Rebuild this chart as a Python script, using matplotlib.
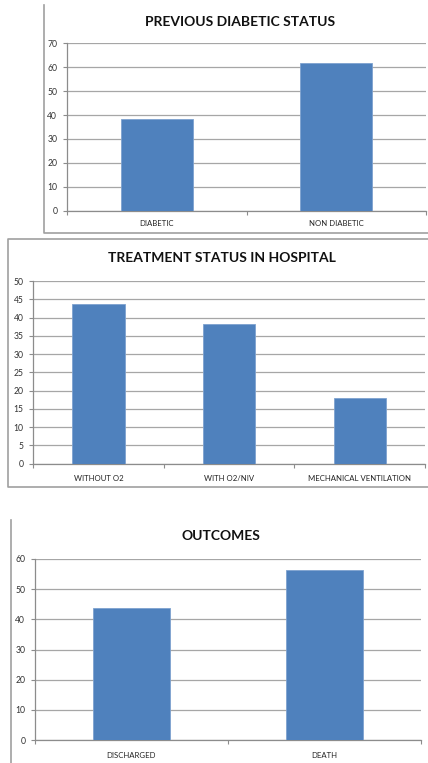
import matplotlib

matplotlib.use("Agg")
import matplotlib.pyplot as plt
from matplotlib.lines import Line2D

# data
diab_labels = ["DIABETIC", "NON DIABETIC"]
diab_values = [38.3, 61.7]

treat_labels = ["WITHOUT O2", "WITH O2/NIV", "MECHANICAL VENTILATION"]
treat_values = [43.8, 38.3, 17.9]

outcome_labels = ["DISCHARGED", "DEATH"]
outcome_values = [43.7, 56.3]

W, H = 428, 763
BAR = "#4F81BD"
GRID = "#A6A6A6"
AXIS = "#8C8C8C"
BORDER = "#A0A0A0"

plt.rcParams["font.family"] = ["Lato", "DejaVu Sans"]

fig = plt.figure(figsize=(W / 100, H / 100), dpi=100)


def px_axes(x0, x1, y0, y1):
    # pixel box (top-left origin) -> figure fraction
    return fig.add_axes([x0 / W, 1 - y1 / H, (x1 - x0) / W, (y1 - y0) / H])


def border(xs, ys):
    fig.add_artist(Line2D([x / W for x in xs], [1 - y / H for y in ys],
                          color=BORDER, lw=1.2))


def bar_panel(box, labels, values, ymax, step, title, title_y, title_x, label_pad):
    ax = px_axes(*box)
    n = len(labels)
    ax.bar(range(n), values, width=0.4, color=BAR, edgecolor="#7EA2CF",
           linewidth=0.6, zorder=3)
    ax.set_xlim(-0.5, n - 0.5)
    ax.set_ylim(0, ymax)
    ax.set_yticks(range(0, ymax + 1, step))
    ax.yaxis.grid(True, color=GRID, lw=0.9, zorder=0)
    ax.set_axisbelow(True)
    for s in ("top", "right"):
        ax.spines[s].set_visible(False)
    for s in ("left", "bottom"):
        ax.spines[s].set_color(AXIS)
        ax.spines[s].set_linewidth(0.9)
    ax.set_xticks(range(n))
    ax.set_xticklabels(labels, fontsize=5.6, color="#222222")
    ax.tick_params(axis="x", length=0, pad=label_pad)
    ax.set_xticks([i - 0.5 for i in range(n + 1)], minor=True)
    ax.tick_params(axis="x", which="minor", length=3, color=AXIS, width=0.8)
    ax.tick_params(axis="y", length=3, color=AXIS, width=0.8, pad=4,
                   labelsize=6.2, labelcolor="#333333")
    fig.text(title_x / W, 1 - title_y / H, title, ha="center", va="center",
             fontsize=10, fontweight="bold", color="#111111")
    return ax


bar_panel((67, 426, 43.3, 210.7), diab_labels, diab_values, 70, 10,
          "PREVIOUS DIABETIC STATUS", 22, 240, 7)
bar_panel((33.3, 425, 281, 463.7), treat_labels, treat_values, 50, 5,
          "TREATMENT STATUS IN HOSPITAL", 258, 222, 8)
bar_panel((35, 420.7, 559, 740), outcome_labels, outcome_values, 60, 10,
          "OUTCOMES", 536.5, 221, 9)

# chart frames
border([44, 44, W + 5], [5, 232.5, 232.5])
border([W + 5, 8, 8, W + 5], [239, 239, 487, 487])
border([11, 11], [520, H + 5])

fig.savefig("out.png", dpi=100)
